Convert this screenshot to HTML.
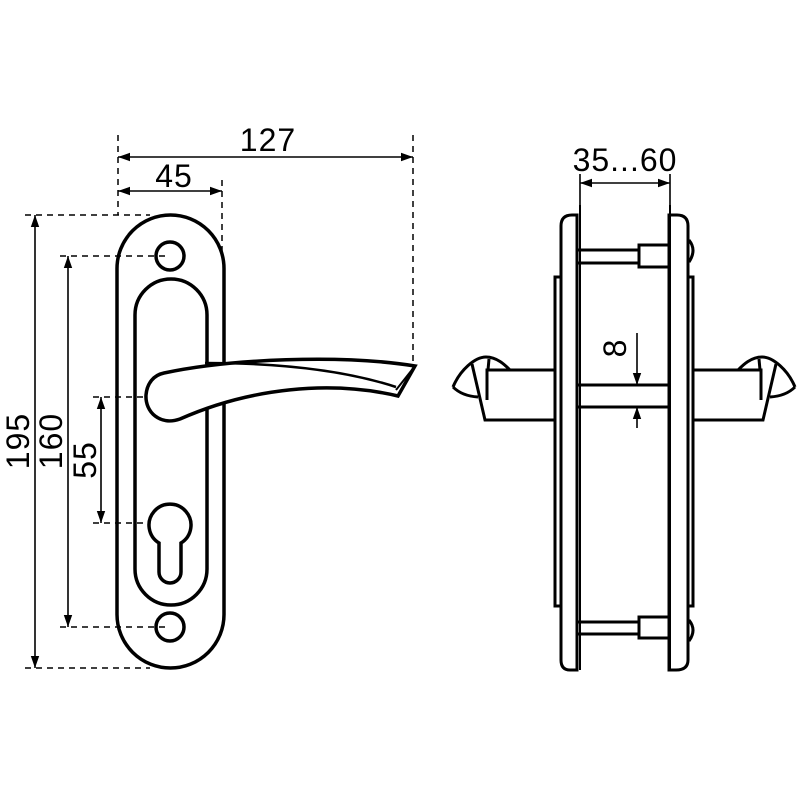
<!DOCTYPE html>
<html><head><meta charset="utf-8"><style>
html,body{margin:0;padding:0;background:#fff;}
svg{display:block}
text{font-family:"Liberation Sans",sans-serif;font-size:32px;fill:#000;letter-spacing:1px}
</style></head><body>
<svg width="800" height="800" viewBox="0 0 800 800" xmlns="http://www.w3.org/2000/svg">
<defs>
<marker id="a" viewBox="0 0 10 10" refX="10" refY="5" markerWidth="12" markerHeight="12" markerUnits="userSpaceOnUse" orient="auto-start-reverse"><path d="M0,1.5 L10,5 L0,8.5 z" fill="#000"/></marker>
</defs>
<g fill="none" stroke="#000">
<g stroke-width="1.5" stroke-dasharray="6,5">
<line x1="118" y1="135" x2="118" y2="215"/>
<line x1="413" y1="135" x2="413" y2="366"/>
<line x1="222" y1="180" x2="222" y2="255"/>
<line x1="25" y1="215" x2="150" y2="215"/>
<line x1="60" y1="256" x2="170" y2="256"/>
<line x1="93" y1="397" x2="172" y2="397"/>
<line x1="93" y1="523" x2="172" y2="523"/>
<line x1="60" y1="627" x2="170" y2="627"/>
<line x1="25" y1="668" x2="150" y2="668"/>
</g>
<g stroke-width="1.6">
<line x1="118" y1="157" x2="413" y2="157" marker-start="url(#a)" marker-end="url(#a)"/>
<line x1="118" y1="191" x2="222" y2="191" marker-start="url(#a)" marker-end="url(#a)"/>
<line x1="35" y1="215" x2="35" y2="668" marker-start="url(#a)" marker-end="url(#a)"/>
<line x1="68" y1="256" x2="68" y2="627" marker-start="url(#a)" marker-end="url(#a)"/>
<line x1="101" y1="397" x2="101" y2="523" marker-start="url(#a)" marker-end="url(#a)"/>
<line x1="580" y1="183" x2="670" y2="183" marker-start="url(#a)" marker-end="url(#a)"/>
<line x1="580" y1="174" x2="580" y2="215"/>
<line x1="670" y1="174" x2="670" y2="215"/>
<line x1="637" y1="333" x2="637" y2="385" marker-end="url(#a)"/>
<line x1="637" y1="428" x2="637" y2="407" marker-end="url(#a)"/>
</g>
<g stroke-width="3.5">
<rect x="117" y="215" width="107" height="453" rx="53.5"/>
<rect x="135" y="279" width="72" height="326" rx="36"/>
<circle cx="170" cy="256" r="14"/>
<circle cx="170" cy="627" r="14"/>
<path d="M159,543 A21,21 0 1 1 181,543 L181,572 A11,11 0 0 1 159,572 Z" fill="#fff"/>
<path d="M164,373 C230,359 340,354 415,366 L398,396 C330,380 250,388 180,419 C160,426 145,412 146,395 C147,383 154,375 164,373 Z" fill="#fff"/>
<path d="M205,363 C290,363 350,372 396,387" stroke-width="2.5"/>
<path d="M415,366 L396,390" stroke-width="2"/>
</g>
<g stroke-width="3">
<path d="M577,215 L577,670 L570,670 Q561,670 561,660 L561,226 Q561,215 572,215 Z"/>
<path d="M669,215 L669,670 L676,670 Q688,670 688,660 L688,226 Q688,215 677,215 Z"/>
<rect x="555" y="277" width="6" height="329"/>
<rect x="688" y="277" width="5" height="329"/>
<line x1="580" y1="205" x2="580" y2="670" stroke-width="2"/>
<line x1="670" y1="205" x2="670" y2="670" stroke-width="2"/>
<rect x="577" y="250" width="62" height="13"/>
<rect x="639" y="245" width="30" height="22"/>
<rect x="577" y="622" width="62" height="12"/>
<rect x="639" y="617" width="30" height="21"/>
<path d="M689,240 Q697,250 689,262"/>
<path d="M689,620 Q697,630 689,641"/>
<rect x="577" y="385" width="92" height="22"/>
<path d="M555,370 L487,370 L487,400 M555,420 L485,420 L472,364"/>
<path d="M453,387 C460,370 475,357 486,357 C497,357 505,365 510,370"/>
<path d="M453,387 Q462,396 478,397"/>
<line x1="489" y1="359" x2="488" y2="370"/>
<path d="M693,370 L761,370 L761,400 M693,420 L763,420 L776,364"/>
<path d="M795,387 C788,370 773,357 762,357 C751,357 743,365 738,370"/>
<path d="M795,387 Q786,396 770,397"/>
<line x1="759" y1="359" x2="760" y2="370"/>
</g>
</g>
<text x="268" y="151" text-anchor="middle">127</text>
<text x="174" y="187" text-anchor="middle">45</text>
<text x="625" y="171" text-anchor="middle">35...60</text>
<text transform="translate(29,441) rotate(-90)" text-anchor="middle">195</text>
<text transform="translate(62,441) rotate(-90)" text-anchor="middle">160</text>
<text transform="translate(96,460) rotate(-90)" text-anchor="middle">55</text>
<text transform="translate(626,348) rotate(-90)" text-anchor="middle">8</text>
</svg>
</body></html>
